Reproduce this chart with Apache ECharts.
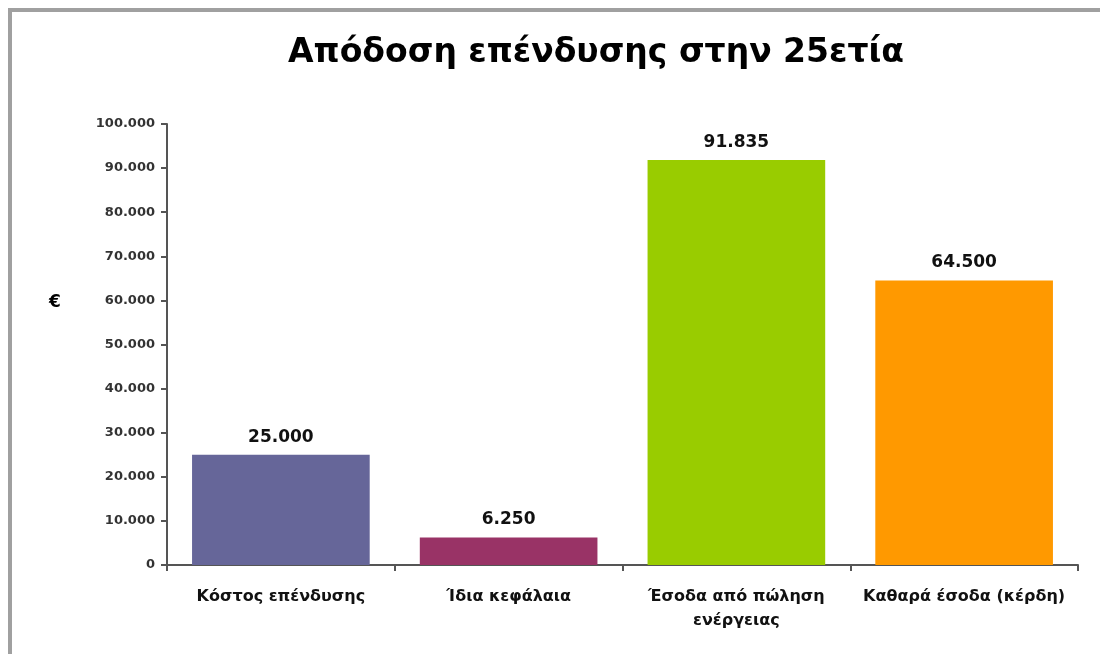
<!DOCTYPE html>
<html><head><meta charset="utf-8">
<script src="https://cdn.jsdelivr.net/npm/echarts@6/dist/echarts.min.js"></script>
<style>html,body{margin:0;padding:0;background:#fff}#c{width:1100px;height:654px}</style>
</head><body><div id="c"></div>
<script>
const categories = ['Κόστος επένδυσης', 'Ίδια κεφάλαια', 'Έσοδα από πώληση\nενέργειας', 'Καθαρά έσοδα (κέρδη)'];
const values = [25000, 6250, 91835, 64500];
const colors = ['#666699', '#993366', '#99CC00', '#FF9900'];
const yTicks = [0, 10000, 20000, 30000, 40000, 50000, 60000, 70000, 80000, 90000, 100000];
const titleText = 'Απόδοση επένδυσης στην 25ετία';
const unitText = '€';

function fmt(v){ return String(Math.round(v)).replace(/\B(?=(\d{3})+(?!\d))/g, '.'); }

const chart = echarts.init(document.getElementById('c'), null, {renderer:'canvas'});
chart.setOption({
  animation:false,
  backgroundColor:'#fff',
  title:{text:titleText, left:591, top:32, textAlign:'center',
    textStyle:{fontFamily:'DejaVu Sans', fontWeight:'bold', fontSize:33, color:'#000'}},
  graphic:[
    {type:'polyline', shape:{points:[[10,660],[10,10],[1110,10]]}, style:{stroke:'#a0a0a0', lineWidth:4, fill:null}},
    {type:'text', left:49, top:294, style:{text:unitText, font:'bold 17px DejaVu Sans', fill:'#000'}}
  ],
  grid:{left:167, right:22, top:124, bottom:89, containLabel:false},
  xAxis:{type:'category', data:categories, boundaryGap:true,
    axisLine:{lineStyle:{color:'#555', width:2}},
    axisTick:{show:true, length:6, alignWithLabel:false, lineStyle:{color:'#555', width:2}},
    axisLabel:{interval:0, margin:20, fontFamily:'DejaVu Sans', fontWeight:'bold', fontSize:16, color:'#111', lineHeight:24}},
  yAxis:{type:'value', min:yTicks[0], max:yTicks[yTicks.length-1], interval:10000,
    splitLine:{show:false},
    axisLine:{show:true, lineStyle:{color:'#555', width:2}},
    axisTick:{show:true, length:6, lineStyle:{color:'#555', width:2}},
    axisLabel:{margin:12, formatter:fmt, fontFamily:'DejaVu Sans', fontWeight:'bold', fontSize:13, color:'#333'}},
  series:[{type:'bar', barWidth:'78%',
    data: values.map((v,i)=>({value:v, itemStyle:{color:colors[i]}})),
    label:{show:true, position:'top', distance:9, formatter:p=>fmt(p.value),
      fontFamily:'DejaVu Sans', fontWeight:'bold', fontSize:17, color:'#111'}}]
});
</script></body></html>
